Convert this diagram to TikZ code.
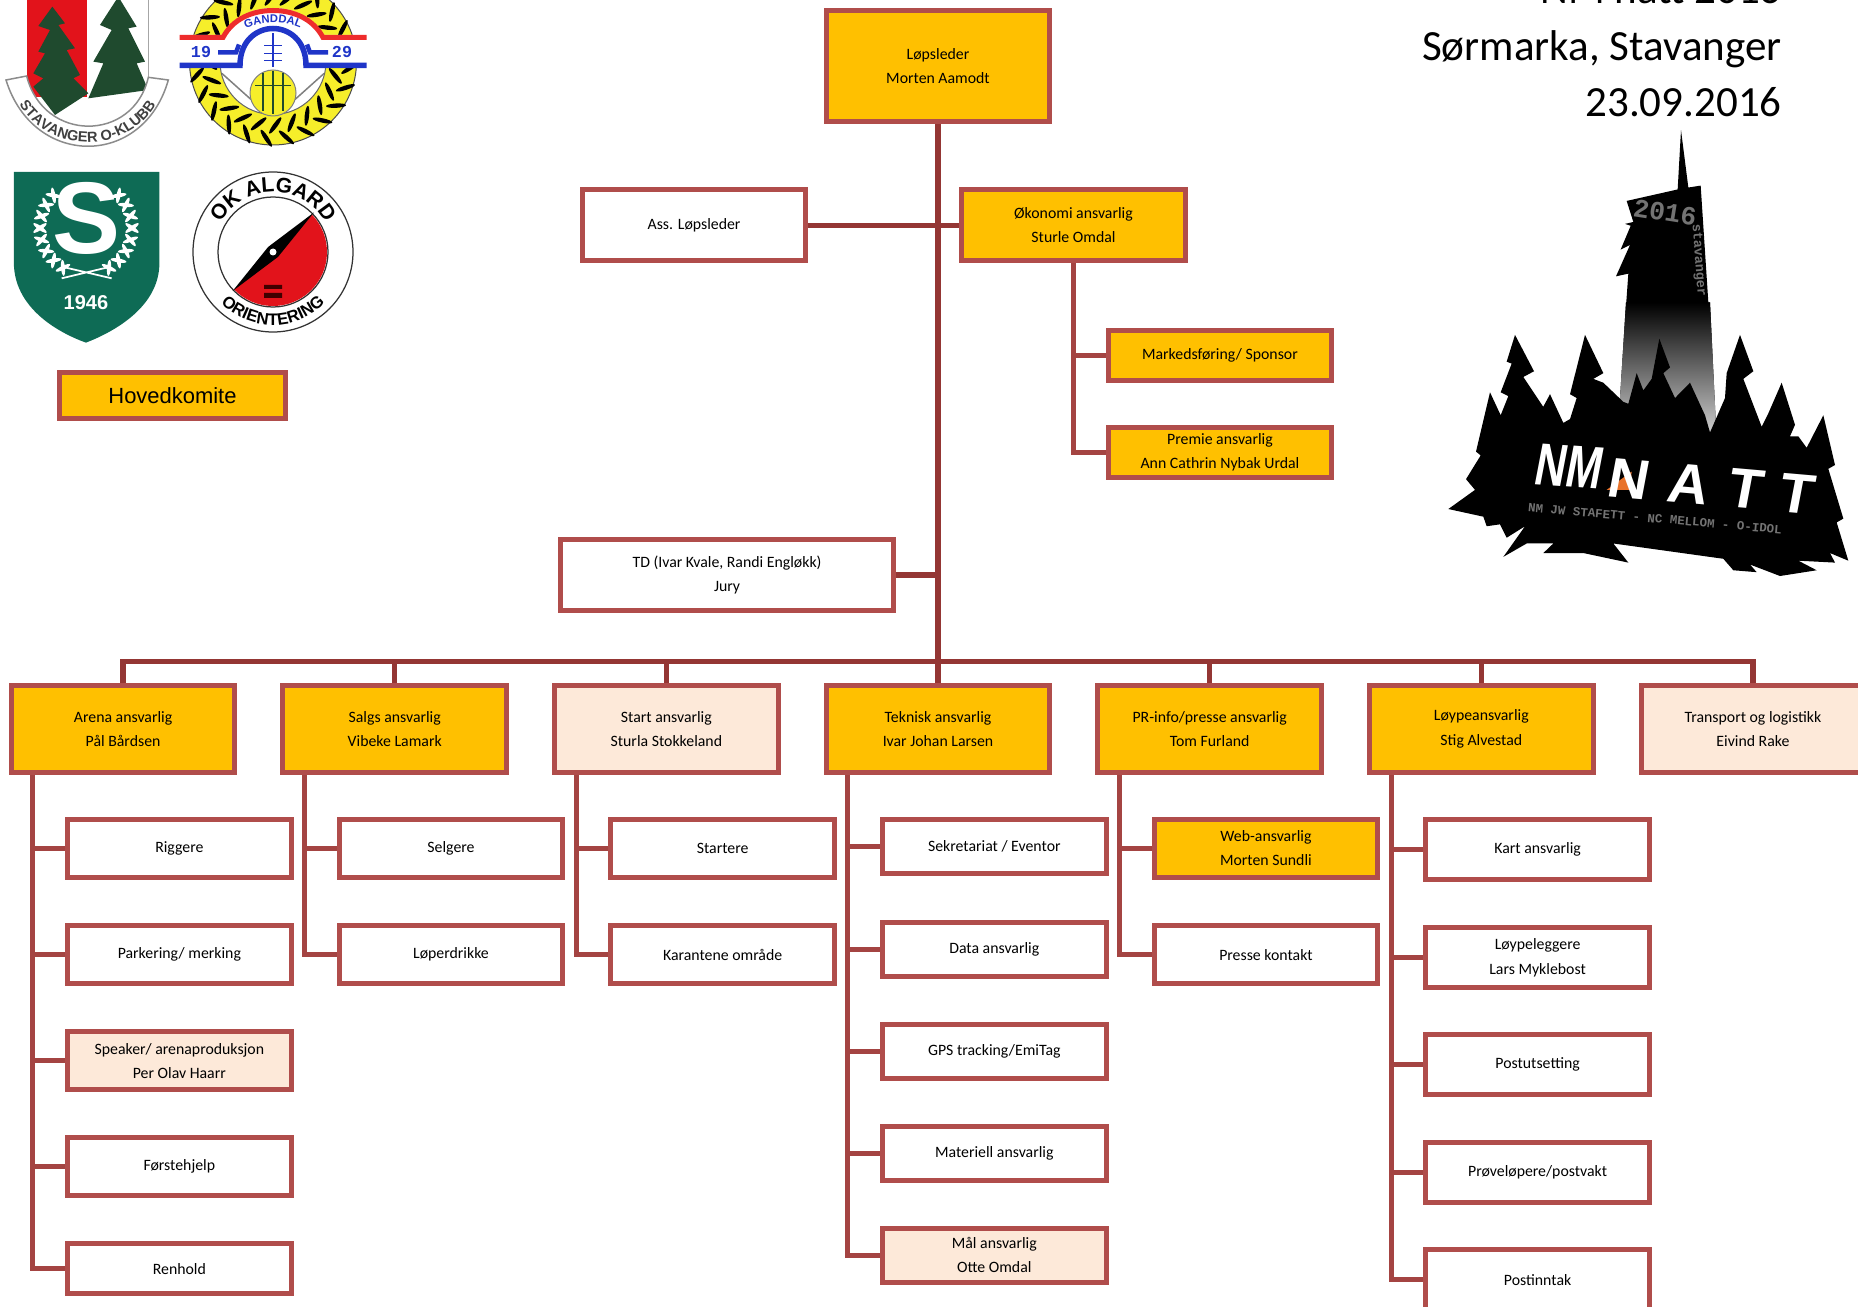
\documentclass[tikz,border=0pt]{standalone}
\usepackage{fontspec}
\setmainfont{Carlito}
\newfontfamily\arialfont{Liberation Sans}
\newfontfamily\monofont{Liberation Mono}
\usetikzlibrary{decorations.text}
\definecolor{boxred}{HTML}{B04D4B}
\definecolor{linkred}{HTML}{A44442}
\definecolor{trunkred}{HTML}{943634}
\definecolor{lead}{HTML}{FFC000}
\definecolor{pale}{HTML}{FDE9D9}
\definecolor{treegreen}{HTML}{1F4A2E}
\definecolor{shieldgreen}{HTML}{0E6B55}
\definecolor{badgeyellow}{HTML}{F6EE2A}
\definecolor{badgeblue}{HTML}{1F35C8}
\definecolor{badgered}{HTML}{EE2C2C}
\definecolor{flagred}{HTML}{E2131B}
\definecolor{logoorange}{HTML}{E8722A}
\tikzstyle{whitebox} = [rectangle, minimum width=4.47cm, minimum height=1.16cm, align=center,
    draw=boxred, line width=1mm, fill=white, font=\fontsize{9}{13.8}\selectfont]
\tikzstyle{leadbox} = [whitebox, fill=lead]
\tikzstyle{palebox} = [whitebox, fill=pale]
\tikzstyle{link} = [draw=linkred, line width=1mm]
\tikzstyle{trunk} = [draw=trunkred, line width=1.1mm]
\begin{document}
\begin{tikzpicture}[x=0.02cm, y=-0.02cm, node distance=5.434cm]
\useasboundingbox (0,0) rectangle (1858,1307);
\clip (0,0) rectangle (1858,1307);

% top of the chart
\node (lopsleder) [leadbox, minimum height=2.22cm] at (938,66.4) {L\o psleder\\Morten Aamodt};
\node (assleder) [whitebox, minimum height=1.42cm, below of=lopsleder, node distance=3.18cm, xshift=-4.88cm] {Ass. L\o psleder};
\node (okonomi) [leadbox, minimum height=1.42cm, below of=lopsleder, node distance=3.18cm, xshift=2.71cm] {\O konomi ansvarlig\\Sturle Omdal};
\node (marked) [leadbox, minimum height=1.01cm, below of=okonomi, node distance=2.6cm, xshift=2.93cm] {Markedsf\o ring/ Sponsor};
\node (premie) [leadbox, minimum height=1.01cm, below of=marked, node distance=1.94cm] {Premie ansvarlig\\Ann Cathrin Nybak Urdal};
\node (td) [whitebox, minimum width=6.65cm, minimum height=1.42cm, below of=lopsleder, node distance=10.17cm, xshift=-4.22cm] {TD (Ivar Kvale, Randi Engl\o kk)\\Jury};
\node (hovedkomite) [leadbox, minimum width=4.52cm, minimum height=.92cm, font=\arialfont\fontsize{12.5}{15}\selectfont] at (172.5,395.5) {Hovedkomite};

% the row of leaders
\node (teknisk) [leadbox, minimum height=1.75cm, below of=lopsleder, node distance=13.25cm] {Teknisk ansvarlig\\Ivar Johan Larsen};
\node (start) [palebox, minimum height=1.75cm, left of=teknisk] {Start ansvarlig\\Sturla Stokkeland};
\node (salgs) [leadbox, minimum height=1.75cm, left of=start] {Salgs ansvarlig\\Vibeke Lamark};
\node (arena) [leadbox, minimum height=1.75cm, left of=salgs] {Arena ansvarlig\\P\aa l B\aa rdsen};
\node (prinfo) [leadbox, minimum height=1.75cm, right of=teknisk] {PR-info/presse ansvarlig\\Tom Furland};
\node (loype) [leadbox, minimum height=1.75cm, right of=prinfo] {L\o ypeansvarlig\\Stig Alvestad};
\node (transport) [palebox, minimum height=1.75cm, right of=loype] {Transport og logistikk\\Eivind Rake};
\coordinate (bus) at ([yshift=.42cm]teknisk.north);

% arena
\node (riggere) [whitebox, below of=arena, node distance=2.39cm, xshift=1.126cm] {Riggere};
\node (parkering) [whitebox, below of=riggere, node distance=2.13cm] {Parkering/ merking};
\node (speaker) [palebox, below of=parkering, node distance=2.12cm] {Speaker/ arenaproduksjon\\Per Olav Haarr};
\node (forstehjelp) [whitebox, below of=speaker, node distance=2.12cm] {F\o rstehjelp};
\node (renhold) [whitebox, minimum height=1.01cm, below of=forstehjelp, node distance=2.04cm] {Renhold};

% salg and start
\node (selgere) [whitebox, below of=salgs, node distance=2.39cm, xshift=1.126cm] {Selgere};
\node (loperdrikke) [whitebox, below of=selgere, node distance=2.13cm] {L\o perdrikke};
\node (startere) [whitebox, below of=start, node distance=2.39cm, xshift=1.126cm] {Startere};
\node (karantene) [whitebox, below of=startere, node distance=2.13cm] {Karantene omr\aa de};

% teknisk
\node (sekretariat) [whitebox, minimum height=1.085cm, below of=teknisk, node distance=2.36cm, xshift=1.126cm] {Sekretariat / Eventor};
\node (data) [whitebox, minimum height=1.085cm, below of=sekretariat, node distance=2.05cm] {Data ansvarlig};
\node (gps) [whitebox, minimum height=1.085cm, below of=data, node distance=2.04cm] {GPS tracking/EmiTag};
\node (materiell) [whitebox, minimum height=1.085cm, below of=gps, node distance=2.04cm] {Materiell ansvarlig};
\node (mal) [palebox, minimum height=1.085cm, below of=materiell, node distance=2.04cm] {M\aa l ansvarlig\\Otte Omdal};

% pr
\node (web) [leadbox, below of=prinfo, node distance=2.39cm, xshift=1.126cm] {Web-ansvarlig\\Morten Sundli};
\node (presse) [whitebox, below of=web, node distance=2.13cm] {Presse kontakt};

% loype
\node (kart) [whitebox, minimum height=1.2cm, below of=loype, node distance=2.42cm, xshift=1.126cm] {Kart ansvarlig};
\node (loypeleggere) [whitebox, minimum height=1.2cm, below of=kart, node distance=2.16cm] {L\o ypeleggere\\Lars Myklebost};
\node (postut) [whitebox, minimum height=1.2cm, below of=loypeleggere, node distance=2.13cm] {Postutsetting};
\node (proveloper) [whitebox, minimum height=1.2cm, below of=postut, node distance=2.17cm] {Pr\o vel\o pere/postvakt};
\node (postinn) [whitebox, minimum height=1.2cm, below of=proveloper, node distance=2.145cm] {Postinntak};

% connectors
\draw [trunk] (lopsleder.south) -- (teknisk.north);
\draw [trunk] (assleder.east) -- (okonomi.west);
\draw [trunk] (td.east) -- (td.east -| lopsleder.south);
\foreach \lead in {arena,salgs,start,prinfo,loype,transport}
    \draw [trunk] (\lead.north) |- (bus);
\draw [link] (okonomi.south) |- (marked.west);
\draw [link] (okonomi.south) |- (premie.west);
\foreach \kid in {riggere,parkering,speaker,forstehjelp,renhold}
    \draw [link] ([xshift=.48cm]arena.south west) |- (\kid.west);
\foreach \kid in {selgere,loperdrikke}
    \draw [link] ([xshift=.48cm]salgs.south west) |- (\kid.west);
\foreach \kid in {startere,karantene}
    \draw [link] ([xshift=.48cm]start.south west) |- (\kid.west);
\foreach \kid in {sekretariat,data,gps,materiell,mal}
    \draw [link] ([xshift=.48cm]teknisk.south west) |- (\kid.west);
\foreach \kid in {web,presse}
    \draw [link] ([xshift=.48cm]prinfo.south west) |- (\kid.west);
\foreach \kid in {kart,loypeleggere,postut,proveloper,postinn}
    \draw [link] ([xshift=.48cm]loype.south west) |- (\kid.west);

% title
\node (title) [anchor=north east, inner sep=0pt, align=right, font=\fontsize{24.5}{32.3}\selectfont] at (1782,-26) {NM natt 2016\\S\o rmarka, Stavanger\\23.09.2016};

% Stavanger O-klubb
\begin{scope}[x=0.02cm/3, y=-0.02cm/3]
\fill [flagred] (80,0) rectangle (262,290);
\draw [black!35, line width=.3mm] (445,0) -- (445,240);
\fill [treegreen] (157,20) -- (195,70) -- (175,75) -- (225,145) -- (200,150) -- (240,225) -- (220,235) -- (265,280) -- (165,345) -- (100,260) -- (130,235) -- (100,220) -- (135,160) -- (115,155) -- (150,90) -- (115,78) -- cycle;
\fill [treegreen] (355,-10) -- (410,80) -- (385,85) -- (435,185) -- (410,190) -- (445,270) -- (265,295) -- (310,190) -- (280,185) -- (335,90) -- (300,75) -- cycle;
\filldraw [fill=white, draw=black!45, line width=.3mm] (18,240) -- (80,228) .. controls (130,428) and (400,428) .. (445,232) -- (505,240) .. controls (430,505) and (100,505) .. (18,240) -- cycle;
\path [decorate, decoration={text along path, text align=center,
    text={|\arialfont\bfseries\fontsize{8.3}{10}\selectfont\color{black!75}|STAVANGER O-KLUBB}}]
    (35,265) .. controls (110,480) and (420,480) .. (490,265);
\end{scope}

% Ganddal
\begin{scope}[shift={(273,61.5)}, x=0.02cm, y=0.02cm]
\filldraw [fill=badgeyellow, draw=black!70, line width=.2mm] (0,0) circle [radius=83.5];
\foreach \a in {-170,-155,...,175} {
    \fill [black, rotate=\a, shift={(77,0)}, rotate=38] (0,0) ellipse [x radius=10, y radius=2.2];
    \fill [black, rotate=\a+7, shift={(64,0)}, rotate=-38] (0,0) ellipse [x radius=10, y radius=2.2];
}
\filldraw [fill=white, draw=black!60, line width=.2mm] (0,0) circle [radius=53];
\draw [black!50, line width=.3mm] (-51,-12) -- (-22,-38);
\draw [black!50, line width=.3mm] (51,-12) -- (22,-38);
\filldraw [fill=badgeyellow, draw=black!50, line width=.2mm] (0,-31.5) circle [radius=23];
\draw [treegreen, line width=.25mm] (-10,-12) -- (-10,-50) (0,-10) -- (0,-53) (10,-12) -- (10,-50) (-18,-24) -- (18,-24);
\fill [white] (-93.5,26.5) -- (-50,26.5) .. controls (-40,45) and (-20,53.5) .. (0,53.5) .. controls (20,53.5) and (40,45) .. (50,26.5) -- (93.5,26.5) -- (93.5,-6.5) -- (33,-6.5) .. controls (33,22) and (15,33) .. (0,33) .. controls (-15,33) and (-33,22) .. (-33,-6.5) -- (-93.5,-6.5) -- cycle;
\draw [badgered, line width=1mm] (-93.5,24) -- (-50,24) .. controls (-40,43) and (-20,51) .. (0,51) .. controls (20,51) and (40,43) .. (50,24) -- (93.5,24);
\draw [badgeblue, line width=1.1mm] (-93.5,-4) -- (-33,-4) .. controls (-33,22) and (-15,33) .. (0,33) .. controls (15,33) and (33,22) .. (33,-4) -- (93.5,-4);
\draw [badgeblue, line width=.9mm] (-55,9) -- (-37,9) -- (-34,17);
\draw [badgeblue, line width=.9mm] (55,9) -- (37,9) -- (34,17);
\draw [badgeblue, line width=.3mm] (0,28) -- (0,-6) (-9,16) -- (9,16) (-9,8) -- (9,8) (-9,1) -- (9,1);
\path [decorate, decoration={text along path, text align=center,
    text={|\arialfont\bfseries\fontsize{6.4}{8}\selectfont\color{badgeblue}|GANDDAL}}]
    (-41,23) .. controls (-25,44) and (25,44) .. (41,23);
\node (yearleft) [text=badgeblue, font=\monofont\bfseries\fontsize{9.5}{10}\selectfont] at (-72,9) {19};
\node (yearright) [text=badgeblue, font=\monofont\bfseries\fontsize{9.5}{10}\selectfont] at (69,9) {29};
\end{scope}

% Sandnes shield
\begin{scope}[x=0.02cm/3, y=-0.02cm/3]
\fill [shieldgreen] (42,516) -- (478,516) -- (478,800) .. controls (470,930) and (330,1000) .. (258,1028) .. controls (180,1000) and (50,930) .. (42,800) -- cycle;
\node (bigs) [text=white, font=\arialfont\bfseries\fontsize{58}{60}\selectfont] at (258,655) {S};
\node (founded) [text=white, font=\arialfont\bfseries\fontsize{11.4}{13}\selectfont] at (258,908) {1946};
\draw [white, line width=.35mm] (185,800) -- (335,835) (332,800) -- (185,835);
\end{scope}
\begin{scope}[shift={(86,228)}, x=0.02cm, y=0.02cm]
\foreach \a in {135,150,...,240} {
    \fill [white, rotate=\a, shift={(46,0)}, rotate=35] (0,0) ellipse [x radius=8, y radius=2];
    \fill [white, rotate=\a, shift={(46,0)}, rotate=-35] (0,0) ellipse [x radius=8, y radius=2];
    \fill [white, rotate=180-\a, shift={(46,0)}, rotate=35] (0,0) ellipse [x radius=8, y radius=2];
    \fill [white, rotate=180-\a, shift={(46,0)}, rotate=-35] (0,0) ellipse [x radius=8, y radius=2];
}
\end{scope}

% OK Algard
\begin{scope}[shift={(273,252)}, x=0.02cm, y=0.02cm]
\draw [black!80, line width=.25mm] (0,0) circle [radius=80];
\draw [black!80, line width=.25mm] (0,0) circle [radius=55];
\fill [flagred] (44:54) arc (44:-136:54) -- cycle;
\fill [black] (44:57) -- (134:7) -- (-136:56) -- (-46:7) -- cycle;
\fill [white] (0,0) circle [radius=3.5];
\fill [black!75!red] (-9,-33) rectangle (9,-37) (-9,-41) rectangle (9,-46);
\path [decorate, decoration={text along path, text align=center,
    text={|\arialfont\bfseries\fontsize{12}{14}\selectfont|OK ALGARD}}]
    (172:60) arc (172:8:60);
\path [decorate, decoration={text along path, text align=center,
    text={|\arialfont\bfseries\fontsize{9.5}{12}\selectfont|ORIENTERING}}]
    (200:73) arc (200:340:73);
\end{scope}

% NM natt logo
\begin{scope}[shift={(1380,0)}, x=0.02cm/3, y=-0.02cm/2.613]
\fill [black] (903,340) -- (925,490) -- (962,485) -- (985,790) -- (990,800) -- (738,800) -- (745,715) -- (708,722) -- (750,640) -- (722,652) -- (752,590) -- (735,585) -- (760,580) -- (740,525) -- (893,495) -- cycle;
\fill [top color=black, middle color=black!80, bottom color=black!15] (738,790) -- (990,790) -- (1010,1150) -- (712,1150) -- cycle;
\fill [black] (205,1330) -- (285,1280) -- (258,1252) -- (302,1190) -- (288,1180) -- (330,1025) -- (362,1085) -- (385,1035) -- (362,1025) -- (395,950) -- (380,945) -- (405,875) -- (462,970) -- (430,985) -- (495,1070) -- (470,1095) -- (510,1030) -- (550,1105) -- (570,1095) -- (590,1040) -- (570,1030) -- (615,875) -- (670,975) -- (640,990) -- (670,1000) -- (730,1050) -- (745,1055) -- (770,975) -- (790,1020) -- (815,990) -- (838,885) -- (870,960) -- (850,975) -- (885,1040) -- (930,1000) -- (975,1085) -- (990,1130) -- (1035,1040) -- (1040,975) -- (1080,875) -- (1120,970) -- (1090,990) -- (1145,1115) -- (1165,1080) -- (1205,1000) -- (1245,1110) -- (1230,1140) -- (1255,1140) -- (1280,1170) -- (1330,1085) -- (1365,1215) -- (1345,1225) -- (1390,1355) -- (1370,1365) -- (1405,1465) -- (1350,1445) -- (1365,1470) -- (1255,1465) -- (1310,1490) -- (1200,1505) -- (1110,1475) -- (1130,1495) -- (1060,1490) -- (1030,1460) -- (700,1420) -- (745,1470) -- (610,1445) -- (490,1445) -- (520,1420) -- (440,1420) -- (370,1455) -- (435,1375) -- (380,1405) -- (360,1370) -- (320,1375) -- (310,1350) -- cycle;
\fill [logoorange] (680,1280) -- (755,1232) -- (750,1280) -- cycle;
\node (logonm) [rotate=-4, xslant=.12, xscale=.72, text=white, font=\arialfont\bfseries\fontsize{34}{36}\selectfont] at (568,1218) {NM};
\node (logonatt) [rotate=-5, xslant=.1, text=white, font=\arialfont\bfseries\fontsize{32}{36}\selectfont] at (995,1270) {N\kern.35em A\kern.35em T\kern.3em T};
\node (logoline) [rotate=-5, text=black!55, font=\monofont\bfseries\fontsize{7.1}{9}\selectfont] at (825,1355) {NM JW STAFETT - NC MELLOM - O-IDOL};
\node (logoyear) [rotate=-9, text=black!55, font=\monofont\bfseries\fontsize{15}{16}\selectfont] at (855,555) {2016};
\node (logotown) [rotate=-86, text=black!55, font=\monofont\bfseries\fontsize{7.7}{9}\selectfont] at (955,680) {stavanger};
\end{scope}
\end{tikzpicture}
\end{document}
